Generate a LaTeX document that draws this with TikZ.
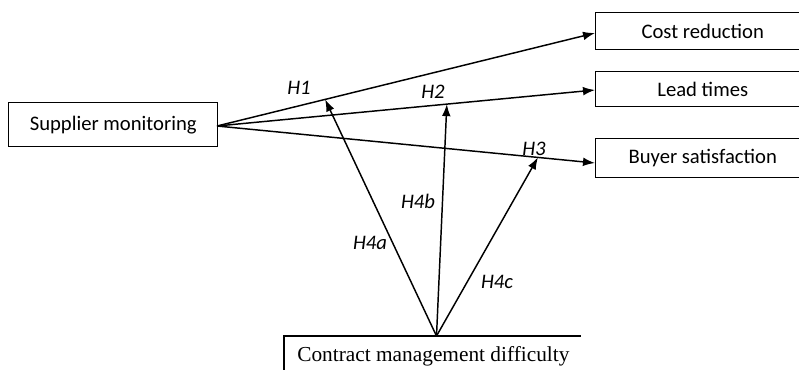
\documentclass[tikz,border=0pt]{standalone}
\usepackage{fontspec}
\setmainfont{Carlito}
\newfontfamily\serifcm{Liberation Serif}
\usetikzlibrary{arrows.meta,calc}
\begin{document}
\begin{tikzpicture}[x=0.75pt,y=-0.75pt,
  box/.style={draw, line width=1.1pt, rectangle, inner sep=0pt, anchor=north west,
    font=\fontsize{15.5}{18}\selectfont},
  conn/.style={line width=1.1pt, -{Latex[length=9pt,width=6.5pt]}},
  hyp/.style={font=\fontsize{15.5}{18}\selectfont\itshape}]
\useasboundingbox (0,0) rectangle (799,369);
\clip (0,0) rectangle (799,369);
\node[box, minimum width=156.75pt, minimum height=33pt] (sm) at (8,102) {Supplier monitoring};
\node[box, minimum width=160.5pt, minimum height=27.75pt] (cr) at (595,12) {Cost reduction};
\node[box, minimum width=160.5pt, minimum height=26.25pt] (lt) at (595,71) {Lead times};
\node[box, minimum width=160.5pt, minimum height=29.25pt] (bs) at (595,138) {Buyer satisfaction};
\node[box, draw=none, minimum width=222pt, minimum height=30pt,
  font=\fontsize{16}{19}\selectfont\serifcm] (cm) at (284,336) {\hspace*{1pt}Contract management difficulty};
\draw[line width=1.1pt] (cm.south west) -- (cm.north west) -- (cm.north east);
\coordinate (src) at (217,126);
\coordinate (e1) at (595,33);
\coordinate (e2) at (595,90);
\coordinate (e3) at (595,163);
\coordinate (top) at (436.5,336);
\draw[conn] (src) -- (e1);
\draw[conn] (src) -- (e2);
\draw[conn] (src) -- (e3);
\coordinate (t1) at ($(src)!0.286!(e1)$);
\coordinate (t2) at ($(src)!0.608!(e2)$);
\coordinate (t3) at ($(src)!0.849!(e3)$);
\draw[conn] (top) -- (t1);
\draw[conn] (top) -- (t2);
\draw[conn] (top) -- (t3);
\node[hyp] (h1) at (299,88) {H1};
\node[hyp] (h2) at (433,92) {H2};
\node[hyp] (h3) at (534,149) {H3};
\node[hyp] (h4a) at (370,243) {H4a};
\node[hyp] (h4b) at (418,201) {H4b};
\node[hyp] (h4c) at (497,282) {H4c};
\end{tikzpicture}
\end{document}
